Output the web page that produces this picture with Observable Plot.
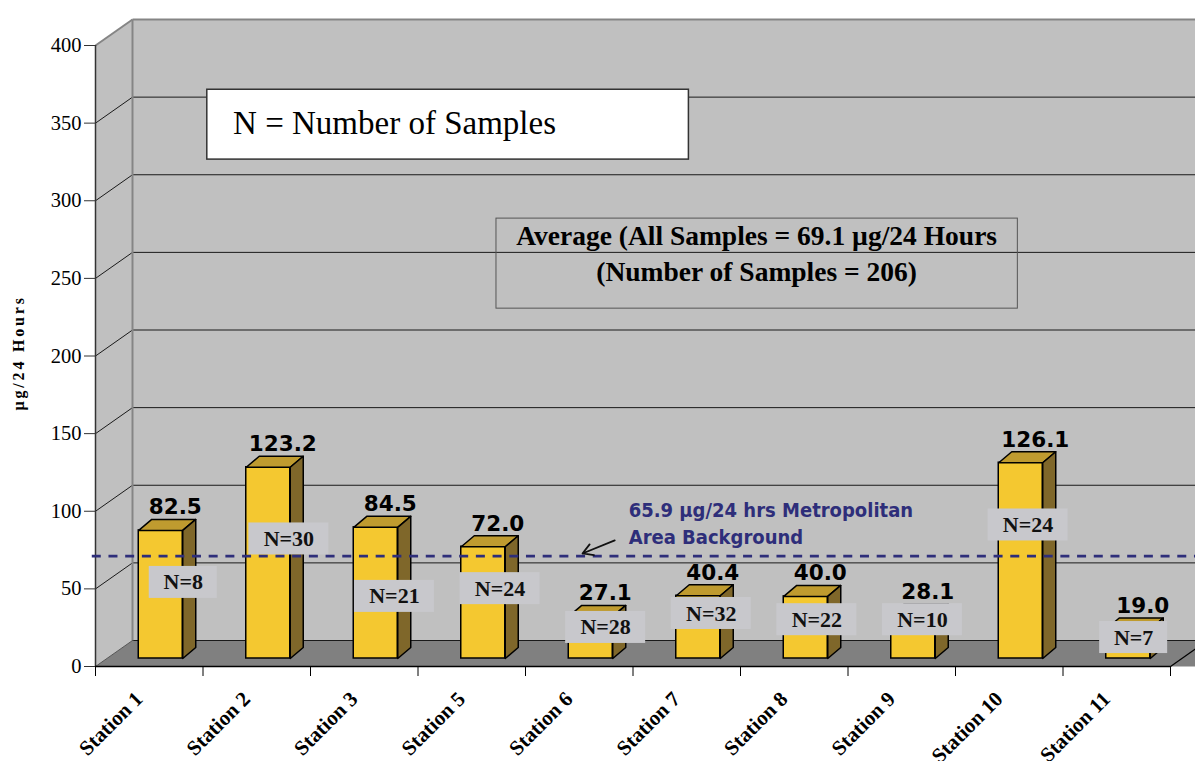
<!DOCTYPE html>
<html><head><meta charset="utf-8">
<script src="https://cdn.jsdelivr.net/npm/d3@7"></script>
<script src="https://cdn.jsdelivr.net/npm/@observablehq/plot@0.6"></script>
<style>html,body{margin:0;padding:0;background:#fff;overflow:hidden;} #chart svg{display:block;}</style>
</head><body><div id="chart"></div>
<script>
// ---- data ----
const stations = ["Station 1","Station 2","Station 3","Station 5","Station 6","Station 7","Station 8","Station 9","Station 10","Station 11"];
const values = [82.5, 123.2, 84.5, 72.0, 27.1, 40.4, 40.0, 28.1, 126.1, 19.0];
const samples = [8, 30, 21, 24, 28, 32, 22, 10, 24, 7];
const sampleLabelLevel = [49, 77, 40, 45, 20, 29, 25, 25, 86, 13.5];
const yTicks = [0, 50, 100, 150, 200, 250, 300, 350, 400];
const backgroundLevel = 65.9;
const backgroundNote = ["65.9 \u00b5g/24 hrs Metropolitan", "Area Background"];
const averageNote = ["Average (All Samples = 69.1 \u00b5g/24 Hours", "(Number of Samples = 206)"];
const legendNote = "N = Number of Samples";
const yTitle = "\u00b5g/24 Hours";

// ---- layout ----
const W = 1195, H = 761, mL = 95, mR = 25, mT = 45, mB = 95;
const nCat = stations.length, yMax = 400;
const pxX = (W - mL - mR) / nCat, pxY = (H - mT - mB) / yMax;
const toX = p => p / pxX, toY = p => p / pxY;
const wallDX = toX(37), wallDY = toY(26);
const barDX = 11.5, barDY = -8;
const barHalf = toX(22), depthX = toX(13), depthY = toY(11);
const xEnd = nCat + wallDX + 0.5;

const bars = stations.map((s, i) => ({
  station: s, i, v: values[i], n: "N=" + samples[i], c: i + 0.5,
  x1: i + 0.5 - barHalf, x2: i + 0.5 + barHalf, level: sampleLabelLevel[i]
}));
const pts = (id, arr) => arr.map(([x, y]) => ({id, x, y}));
const topFaces = bars.flatMap(b => pts(b.i, [[b.x1, b.v], [b.x2, b.v], [b.x2 + depthX, b.v + depthY], [b.x1 + depthX, b.v + depthY]]));
const sideFaces = bars.flatMap(b => pts(b.i, [[b.x2, 0], [b.x2 + depthX, depthY], [b.x2 + depthX, b.v + depthY], [b.x2, b.v]]));
const backWall = pts(0, [[wallDX, wallDY], [wallDX, yMax + wallDY], [xEnd, yMax + wallDY], [xEnd, wallDY]]);
const leftWall = pts(0, [[0, 0], [wallDX, wallDY], [wallDX, yMax + wallDY], [0, yMax]]);
const floor = pts(0, [[0, 0], [wallDX, wallDY], [xEnd, wallDY], [nCat + 0.5 , 0]]);

const labelBoxes = bars.map(b => {
  const off = toX(34 - 1.9 * b.i);
  const hw = toX(b.n.length > 3 ? 40 : 34), hh = toY(16);
  return {...b, cx: b.c + off, bx1: b.c + off - hw, bx2: b.c + off + hw, by1: b.level - hh, by2: b.level + hh};
});

const serif = "'Liberation Serif', 'Times New Roman', serif";
const sans = "'DejaVu Sans', Verdana, sans-serif";
const sansC = "'DejaVu Sans Condensed', 'DejaVu Sans', sans-serif";

const chart = Plot.plot({
  width: W, height: H, marginLeft: mL, marginRight: mR, marginTop: mT, marginBottom: mB,
  x: {domain: [0, nCat], axis: null},
  y: {domain: [0, yMax], axis: null},
  style: {fontFamily: serif, fontSize: "20px", color: "#000", background: "#fff", overflow: "hidden"},
  marks: [
    Plot.line(backWall, {x: "x", y: "y", z: "id", fill: "#c0c0c0", stroke: "none", curve: "linear-closed"}),
    Plot.line(leftWall, {x: "x", y: "y", z: "id", fill: "#c0c0c0", stroke: "none", curve: "linear-closed"}),
    Plot.line(floor, {x: "x", y: "y", z: "id", fill: "#808080", stroke: "none", curve: "linear-closed"}),
    // back wall gridlines & side diagonals
    Plot.ruleY(yTicks.filter(t => t < yMax), {y: t => t + wallDY, x1: wallDX, x2: xEnd, stroke: "#1a1a1a", strokeWidth: 1}),
    Plot.link(yTicks.filter(t => t > 0 && t < yMax), {x1: 0, y1: t => t, x2: wallDX, y2: t => t + wallDY, stroke: "#1a1a1a", strokeWidth: 1}),
    // wall edges
    Plot.link([0], {x1: wallDX, y1: wallDY, x2: wallDX, y2: yMax + wallDY, stroke: "#858585", strokeWidth: 2}),
    Plot.link([0], {x1: wallDX, y1: yMax + wallDY, x2: xEnd, y2: yMax + wallDY, stroke: "#858585", strokeWidth: 2}),
    Plot.link([0], {x1: 0, y1: yMax, x2: wallDX, y2: yMax + wallDY, stroke: "#858585", strokeWidth: 2}),
    Plot.link([0], {x1: 0, y1: 0, x2: wallDX, y2: wallDY, stroke: "#555", strokeWidth: 1}),
    Plot.link([0], {x1: nCat, y1: 0, x2: nCat + wallDX, y2: wallDY, stroke: "#000", strokeWidth: 1.2}),
    Plot.ruleX([0], {y1: 0, y2: yMax, stroke: "#333", strokeWidth: 1.5}),
    Plot.ruleY([0], {x1: 0, x2: nCat, stroke: "#000", strokeWidth: 1.5}),
    // annotation boxes
    Plot.rect([0], {x1: 1.04, x2: 5.52, y1: 326.5, y2: 371.5, fill: "#fff", stroke: "#333", strokeWidth: 1.5}),
    Plot.text([legendNote], {x: 1.28, y: 343.3, text: d => d, textAnchor: "start", lineAnchor: "bottom", fontSize: 33, fill: "#000"}),
    Plot.rect([0], {x1: 3.73, x2: 8.58, y1: 230.5, y2: 288.5, fill: "none", stroke: "#555", strokeWidth: 1}),
    Plot.text([averageNote[0]], {x: 6.15, y: 271.2, text: d => d, lineAnchor: "bottom", fontSize: 27.5, fontWeight: "bold", fill: "#000"}),
    Plot.text([averageNote[1]], {x: 6.15, y: 248.6, text: d => d, lineAnchor: "bottom", fontSize: 27.5, fontWeight: "bold", fill: "#000"}),
    // bars
    Plot.rect(bars, {x1: "x1", x2: "x2", y1: 0, y2: "v", dx: barDX, dy: barDY, fill: "#f4c830", stroke: "#000", strokeWidth: 1.5}),
    Plot.line(topFaces, {x: "x", y: "y", z: "id", dx: barDX, dy: barDY, fill: "#bf9b2f", stroke: "#000", strokeWidth: 1.5, curve: "linear-closed"}),
    Plot.line(sideFaces, {x: "x", y: "y", z: "id", dx: barDX, dy: barDY, fill: "#7f672a", stroke: "#000", strokeWidth: 1.5, curve: "linear-closed"}),
    // sample count boxes
    Plot.rect(labelBoxes, {x1: "bx1", x2: "bx2", y1: "by1", y2: "by2", dy: barDY, fill: "#c8c8cc"}),
    Plot.text(labelBoxes, {x: "cx", y: "level", dy: barDY, text: "n", lineAnchor: "middle", fontSize: 22, fontWeight: "bold", fill: "#111"}),
    // background line
    Plot.ruleY([backgroundLevel], {x1: -0.03, x2: xEnd, dy: barDY, stroke: "#2e2e7a", strokeWidth: 2.8, strokeDasharray: "9,7.7"}),
    Plot.arrow([0], {x1: 4.83, y1: 81.2, x2: 4.53, y2: 72.8, stroke: "#111", strokeWidth: 1.8, headLength: 11}),
    Plot.text([backgroundNote[0]], {x: 4.96, y: 96.6, text: d => d, textAnchor: "start", lineAnchor: "bottom", fontFamily: sansC, fontSize: 20, fontWeight: "bold", fill: "#2e2e7a"}),
    Plot.text([backgroundNote[1]], {x: 4.96, y: 78.6, text: d => d, textAnchor: "start", lineAnchor: "bottom", fontFamily: sansC, fontSize: 20, fontWeight: "bold", fill: "#2e2e7a"}),
    // value labels
    Plot.text(bars, {x: "c", y: "v", text: d => d.v.toFixed(1), dx: 26, dy: -24, lineAnchor: "bottom", fontFamily: sans, fontSize: 21.5, fontWeight: "bold", fill: "#000"}),
    // axes
    Plot.axisY(yTicks, {tickSize: 11, tickPadding: 3, fontSize: 20.5, stroke: "#333", fill: "#000", label: null}),
    Plot.axisX(d3.range(nCat + 1), {tickSize: 10, tickFormat: () => "", stroke: "#000", label: null}),
    Plot.text(bars, {x: "c", y: 0, text: "station", rotate: -45, textAnchor: "end", lineAnchor: "middle", dx: -10, dy: 29, fontSize: 21, fontWeight: "bold", fill: "#000"}),
    Plot.text([yTitle], {frameAnchor: "left", y: 202, text: d => d, dx: -77, rotate: -90, textAnchor: "middle", fontSize: 16, fontWeight: "bold", fill: "#000"})
  ]
});
d3.select(chart).selectAll("text").filter(function() { return this.textContent === yTitle; }).style("letter-spacing", "2.8px");
document.getElementById("chart").appendChild(chart);
</script>
</body></html>
